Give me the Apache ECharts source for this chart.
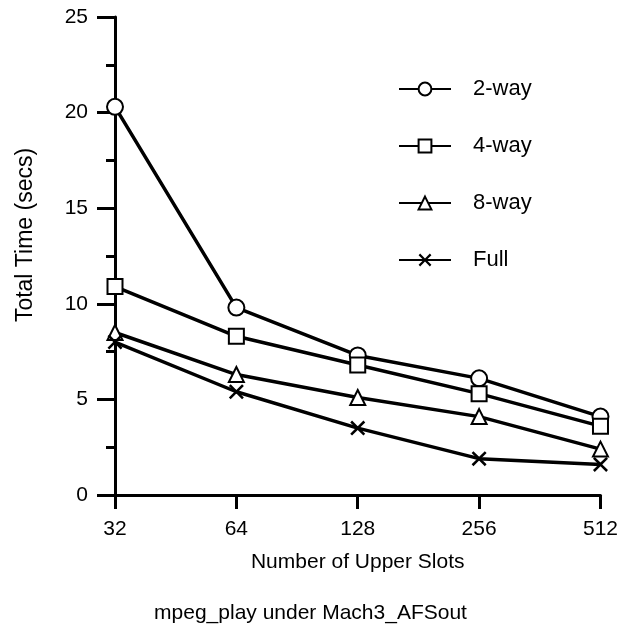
<!DOCTYPE html>
<html>
<head>
<meta charset="utf-8">
<script src="https://cdn.jsdelivr.net/npm/echarts@6/dist/echarts.min.js"></script>
<style>
html,body{margin:0;padding:0;background:#fff;}
#chart{width:621px;height:632px;}
</style>
</head>
<body>
<div id="chart"></div>
<script>
const categories = ['32', '64', '128', '256', '512'];
const way2 = [20.3, 9.8, 7.3, 6.1, 4.1];
const way4 = [10.9, 8.3, 6.8, 5.3, 3.6];
const way8 = [8.5, 6.3, 5.1, 4.1, 2.4];
const full = [8.0, 5.4, 3.5, 1.9, 1.6];
const yTicks = [0, 5, 10, 15, 20, 25];

const FONT = '"Liberation Sans", Arial, Helvetica, sans-serif';
const crossPath = 'path://M0,1.2L1.2,0L5,3.8L8.8,0L10,1.2L6.2,5L10,8.8L8.8,10L5,6.2L1.2,10L0,8.8L3.8,5Z';

function mkSeries(name, data, symbol, size) {
  return {
    name: name,
    type: 'line',
    data: data,
    symbol: symbol,
    symbolSize: size,
    showAllSymbol: true,
    lineStyle: { color: '#000', width: 3.5 },
    itemStyle: { color: '#000', borderColor: '#000', borderWidth: 1.8 },
    emphasis: { disabled: true },
    animation: false,
    z: 3
  };
}

const chart = echarts.init(document.getElementById('chart'), null, { renderer: 'canvas' });
chart.setOption({
  backgroundColor: '#fff',
  animation: false,
  textStyle: { fontFamily: FONT, color: '#000' },
  title: {
    text: 'mpeg_play under Mach3_AFSout',
    left: 'center',
    top: 598,
    textStyle: { fontFamily: FONT, fontSize: 21, fontWeight: 'normal', color: '#000' }
  },
  grid: { left: 115, right: 20, top: 17, bottom: 137, containLabel: false },
  legend: {
    orient: 'vertical',
    left: 393,
    top: 73,
    itemWidth: 52,
    itemHeight: 16,
    itemGap: 35,
    selectedMode: false,
    textStyle: { fontFamily: FONT, fontSize: 22, color: '#000', padding: [0, 0, 0, 17] },
    data: ['2-way', '4-way', '8-way', 'Full']
  },
  xAxis: {
    type: 'category',
    data: categories,
    boundaryGap: false,
    name: 'Number of Upper Slots',
    nameLocation: 'middle',
    nameGap: 57,
    nameTextStyle: { fontFamily: FONT, fontSize: 21, color: '#000' },
    axisLine: { lineStyle: { color: '#000', width: 3 } },
    axisTick: { show: true, length: 14, lineStyle: { color: '#000', width: 3 } },
    axisLabel: { fontFamily: FONT, fontSize: 21, color: '#000', margin: 24 },
    splitLine: { show: false }
  },
  yAxis: {
    type: 'value',
    min: 0,
    max: 25,
    interval: 5,
    name: 'Total Time (secs)',
    nameLocation: 'middle',
    nameGap: 78,
    nameTextStyle: { fontFamily: FONT, fontSize: 23, color: '#000', padding: [0, 0, 0, 42] },
    axisLine: { show: true, lineStyle: { color: '#000', width: 3 } },
    axisTick: { show: true, length: 18, lineStyle: { color: '#000', width: 3 } },
    minorTick: { show: true, splitNumber: 2, length: 9, lineStyle: { color: '#000', width: 3 } },
    axisLabel: {
      fontFamily: FONT, fontSize: 21, color: '#000', margin: 27,
      formatter: function (v) { return yTicks.indexOf(v) >= 0 ? String(v) : ''; }
    },
    splitLine: { show: false }
  },
  series: [
    mkSeries('2-way', way2, 'emptyCircle', 16),
    mkSeries('4-way', way4, 'emptyRect', 15),
    mkSeries('8-way', way8, 'emptyTriangle', 15),
    Object.assign(mkSeries('Full', full, crossPath, 15), {
      itemStyle: { color: '#000', borderColor: '#000', borderWidth: 0 }
    })
  ]
});
</script>
</body>
</html>
